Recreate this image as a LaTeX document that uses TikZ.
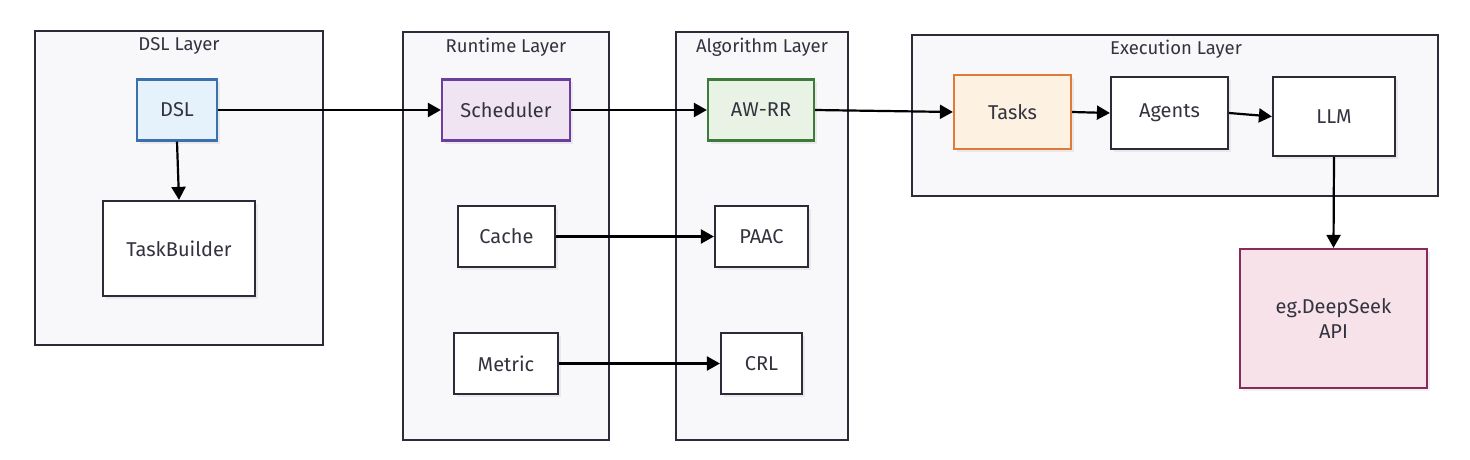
\documentclass[tikz,border=0pt]{standalone}
\usepackage{fontspec}
\setmainfont{Fira Sans}
\usetikzlibrary{arrows.meta,shadows}
\definecolor{txt}{HTML}{33333F}
\definecolor{edge}{HTML}{2B2B3A}
\definecolor{layerfill}{HTML}{F8F8FB}
\definecolor{dslfill}{HTML}{E6F2FB}
\definecolor{dsledge}{HTML}{3A70AE}
\definecolor{schfill}{HTML}{F0E4F3}
\definecolor{schedge}{HTML}{6A3FA0}
\definecolor{awfill}{HTML}{E8F3E6}
\definecolor{awedge}{HTML}{3E7B3A}
\definecolor{taskfill}{HTML}{FDF1E1}
\definecolor{taskedge}{HTML}{E07A3A}
\definecolor{apifill}{HTML}{F8E2EA}
\definecolor{apiedge}{HTML}{8A2A5A}
\tikzset{
  layer/.style={draw=edge, fill=layerfill, line width=2.2pt},
  layertitle/.style={text=txt, font=\fontsize{18.5}{21}\selectfont, anchor=center},
  box/.style={draw=edge, fill=white, line width=2.2pt, text=txt,
    font=\fontsize{20}{25}\selectfont, align=center,
    drop shadow={opacity=0.12, shadow xshift=3pt, shadow yshift=-3pt}},
  conn/.style={draw=black, line width=2.2pt, -{Triangle[length=13pt,width=14pt]}}
}
\begin{document}
\begin{tikzpicture}[x=1pt,y=-1pt]
\useasboundingbox (0,0) rectangle (1470,460);
% layers
\draw[layer] (35,31) rectangle (323,345);
\node[layertitle] (tdsl) at (179,46) {DSL Layer};
\draw[layer] (403,32) rectangle (609,440);
\node[layertitle] (trt) at (506,47) {Runtime Layer};
\draw[layer] (676,32) rectangle (848,440);
\node[layertitle] (talg) at (762,47) {Algorithm Layer};
\draw[layer] (912,35) rectangle (1438,196);
\node[layertitle] (texe) at (1176,49) {Execution Layer};
% nodes
\node[box, fill=dslfill, draw=dsledge, minimum width=80pt, minimum height=61pt] (dsl) at (177,110) {DSL};
\node[box, minimum width=152pt, minimum height=95pt] (tb) at (179,248.5) {TaskBuilder};
\node[box, fill=schfill, draw=schedge, minimum width=128pt, minimum height=61pt] (sch) at (506,110) {Scheduler};
\node[box, minimum width=97pt, minimum height=61pt] (cache) at (506.5,236.5) {Cache};
\node[box, minimum width=104pt, minimum height=61pt] (metric) at (506,363.5) {Metric};
\node[box, fill=awfill, draw=awedge, minimum width=106pt, minimum height=61pt] (awrr) at (761,110) {AW-RR};
\node[box, minimum width=93pt, minimum height=61pt] (paac) at (761.5,236.5) {PAAC};
\node[box, minimum width=81pt, minimum height=61pt] (crl) at (761.5,363.5) {CRL};
\node[box, fill=taskfill, draw=taskedge, minimum width=117pt, minimum height=74pt] (tasks) at (1012.5,112) {Tasks};
\node[box, minimum width=117pt, minimum height=72pt] (agents) at (1169.5,113) {Agents};
\node[box, minimum width=122pt, minimum height=79pt] (llm) at (1334,116.5) {LLM};
\node[box, fill=apifill, draw=apiedge, minimum width=187pt, minimum height=139pt] (api) at (1333.5,318.5) {eg.DeepSeek\\API};
% connectors
\draw[conn] (dsl.south) -- (tb.north);
\draw[conn] (dsl.east) -- (sch.west);
\draw[conn] (sch.east) -- (awrr.west);
\draw[conn] (cache.east) -- (paac.west);
\draw[conn] (metric.east) -- (crl.west);
\draw[conn] (awrr.east) -- (tasks.west);
\draw[conn] (tasks.east) -- (agents.west);
\draw[conn] (agents.east) -- (llm.west);
\draw[conn] (llm.south) -- (api.north);
\end{tikzpicture}
\end{document}
